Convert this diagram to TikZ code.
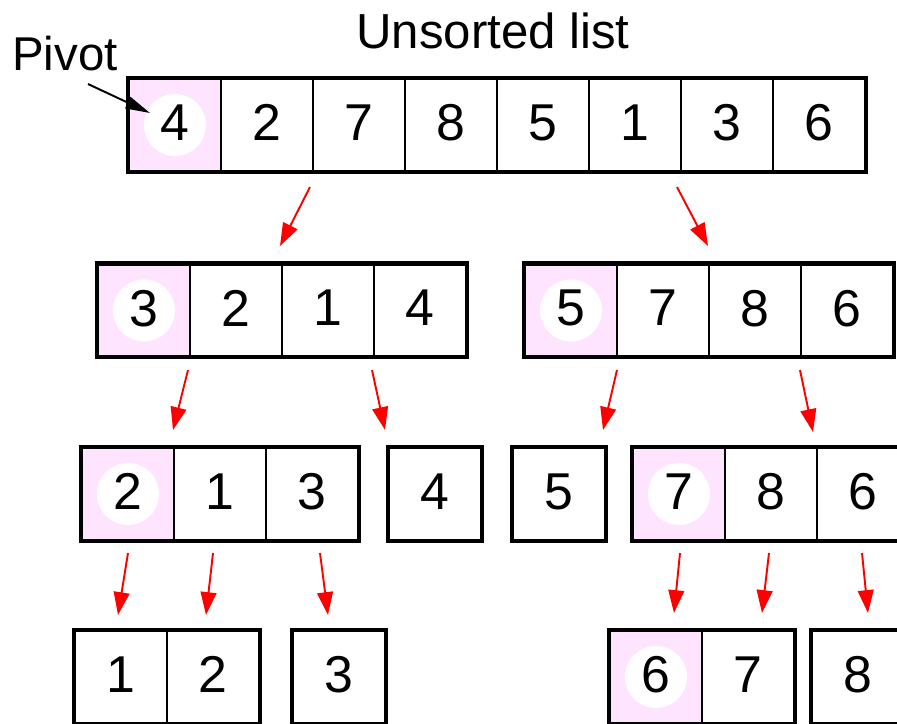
\documentclass[tikz,border=0pt]{standalone}
\usepackage{fontspec}
\setmainfont{Liberation Sans}
\usetikzlibrary{arrows.meta}
\definecolor{pivotpink}{RGB}{255,228,255}
\definecolor{arrowred}{RGB}{255,0,0}
\tikzset{
  cellbox/.style={draw=black, line width=1.1pt, minimum width=1.84cm, minimum height=1.84cm,
    inner sep=0pt, anchor=north west, text depth=2.8pt, font=\fontsize{29.5}{32}\selectfont},
  pivotcell/.style={fill=pivotpink, path picture={\fill[white] (path picture bounding box.center) circle (0.62cm);}},
  outerbox/.style={draw=black, line width=2.3pt},
  redarrow/.style={draw=arrowred, line width=1.1pt, -{Triangle[length=13pt,width=9pt]}},
  pivotarrow/.style={draw=black, line width=1.1pt, -{Triangle[length=14pt,width=7pt]}},
  titletext/.style={anchor=base, inner sep=0pt, font=\fontsize{28}{30}\selectfont},
}
\newcommand\drawlist[6]{%
  \foreach [count=\i] \d in {#5} {%
    \ifnum\i=1
      \node[cellbox,#4] (#1-\i) at ({#2+92*(\i-1)},#3) {\d};
    \else
      \node[cellbox] (#1-\i) at ({#2+92*(\i-1)},#3) {\d};
    \fi
  }
  \draw[outerbox] (#1-1.north west) rectangle (#1-#6.south east);
}
\begin{document}
\begin{tikzpicture}[x=0.02cm, y=-0.02cm]
\useasboundingbox (0,0) rectangle (897,724);
\clip (0,0) rectangle (897,724);
\fill[white] (0,0) rectangle (897,724);

\node[titletext] (title) at (493,48) {Unsorted list};
\node[titletext, font=\fontsize{27}{29}\selectfont] (pivot) at (65,70) {Pivot};

% row 1
\drawlist{u}{128}{78}{pivotcell}{4,2,7,8,5,1,3,6}{8}
% row 2
\drawlist{a}{97}{263.5}{pivotcell}{3,2,1,4}{4}
\drawlist{b}{524}{263.5}{pivotcell}{5,7,8,6}{4}
% row 3
\drawlist{c}{81}{447}{pivotcell}{2,1,3}{3}
\drawlist{d}{388}{447}{}{4}{1}
\drawlist{e}{512}{447}{}{5}{1}
\drawlist{f}{632}{447}{pivotcell}{7,8,6}{3}
% row 4
\drawlist{g}{74}{630}{}{1,2}{2}
\drawlist{h}{292}{630}{}{3}{1}
\drawlist{i}{609}{630}{pivotcell}{6,7}{2}
\drawlist{j}{811}{630}{}{8}{1}

% pivot pointer
\coordinate (pvs) at (88,84);
\coordinate (pvt) at (150,113);
\draw[pivotarrow] (pvs) -- (pvt);

% red arrows
\foreach \n/\sx/\sy/\tx/\ty in {
  1/310/187/280/246, 2/677/187/708/246,
  3/188/370/173/430, 4/372/370/385/430, 5/617/370/603/430, 6/800/370/813/432,
  7/128/553/118/615, 8/213/553/206/615, 9/320/553/328/615,
  10/680/553/674/613, 11/769/553/762/613, 12/862/553/868/613} {
  \coordinate (s\n) at (\sx,\sy);
  \coordinate (t\n) at (\tx,\ty);
  \draw[redarrow] (s\n) -- (t\n);
}
\end{tikzpicture}
\end{document}
